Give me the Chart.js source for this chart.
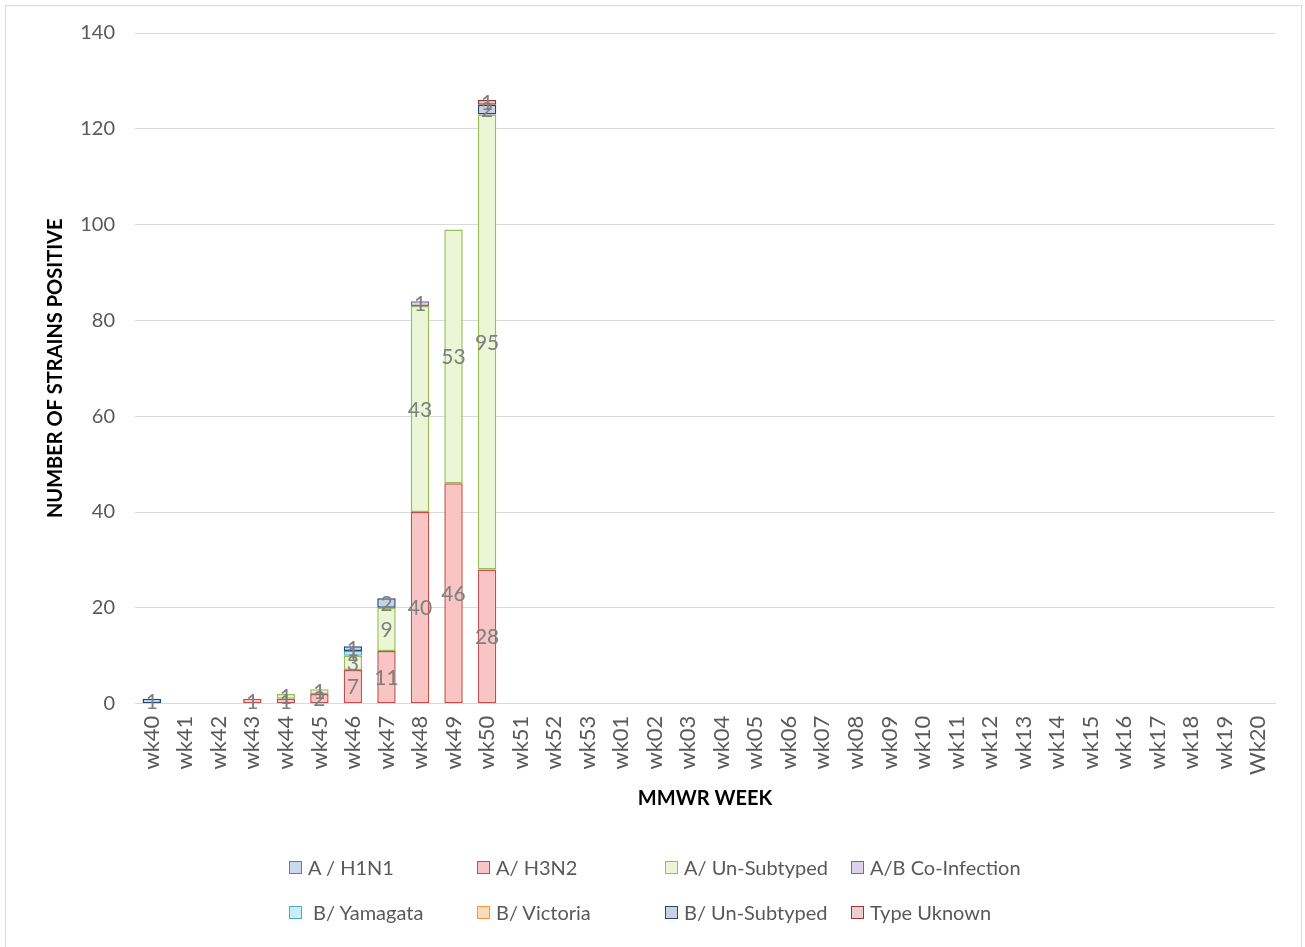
<!DOCTYPE html>
<html>
<head>
<meta charset="utf-8">
<script src="https://cdn.jsdelivr.net/npm/chart.js@4.4.1/dist/chart.umd.min.js"></script>
<style>
    html, body { margin: 0; padding: 0; background: #fff; }
    body { width: 1305px; height: 947px; overflow: hidden; position: relative; font-family: Lato, sans-serif; }
    #frame { position: absolute; left: 5px; top: 5px; width: 1297px; height: 960px; border: 1px solid #d9d9d9; box-sizing: border-box; }
    #wrap { position: absolute; left: 0; top: 0; width: 1305px; height: 947px; }
    .legend-item { position: absolute; display: flex; align-items: center; font-size: 20px; color: #595959; white-space: pre; }
    .legend-item span.box { display: inline-block; width: 11px; height: 11px; border: 1.5px solid; margin-right: 6px; }
</style>
</head>
<body>
<div id="frame"></div>
<div id="wrap"><canvas id="chart" width="1305" height="947"></canvas></div>
<div id="legend"></div>
<script>
// categories
const weeks = ['wk40', 'wk41', 'wk42', 'wk43', 'wk44', 'wk45', 'wk46', 'wk47', 'wk48', 'wk49', 'wk50', 'wk51', 'wk52', 'wk53',
    'wk01', 'wk02', 'wk03', 'wk04', 'wk05', 'wk06', 'wk07', 'wk08', 'wk09', 'wk10', 'wk11', 'wk12', 'wk13', 'wk14',
    'wk15', 'wk16', 'wk17', 'wk18', 'wk19', 'Wk20'];

// series values (only wk40..wk50 reported)
const aH1N1       = [0, 0, 0, 0, 0, 0, 0, 0, 0, 0, 0];
const aH3N2       = [0, 0, 0, 1, 1, 2, 7, 11, 40, 46, 28];
const aUnSubtyped = [0, 0, 0, 0, 1, 1, 3, 9, 43, 53, 95];
const abCoInf     = [0, 0, 0, 0, 0, 0, 0, 0, 1, 0, 0];
const bYamagata   = [0, 0, 0, 0, 0, 0, 1, 0, 0, 0, 0];
const bVictoria   = [0, 0, 0, 0, 0, 0, 0, 0, 0, 0, 0];
const bUnSubtyped = [1, 0, 0, 0, 0, 0, 1, 2, 0, 0, 2];
const typeUnknown = [0, 0, 0, 0, 0, 0, 0, 0, 0, 0, 1];

const seriesNames = ['A / H1N1', 'A/ H3N2', 'A/ Un-Subtyped', 'A/B Co-Infection', ' B/ Yamagata', 'B/ Victoria', 'B/ Un-Subtyped', 'Type Uknown'];
const seriesData = [aH1N1, aH3N2, aUnSubtyped, abCoInf, bYamagata, bVictoria, bUnSubtyped, typeUnknown];
const borderColors = ['#4f81bd', '#c0504d', '#9bbb59', '#8064a2', '#4bacc6', '#f79646', '#1f497d', '#953735'];
const fillColors = ['#c9daf0', '#f9c4c4', '#ebf6d6', '#ddd1ec', '#c8eef7', '#fddabb', '#c7d2e2', '#e8d0cf'];

// y ticks
const yMin = 0, yMax = 140, yStep = 20;

const datasets = seriesNames.map((name, i) => ({
    label: name,
    // zero counts are not drawn at all
    data: seriesData[i].map(v => v || null),
    backgroundColor: fillColors[i],
    borderColor: borderColors[i],
    borderWidth: 1.5,
    borderSkipped: false,
    barPercentage: 0.55,
    categoryPercentage: 1
}));

// simple value labels centred on each segment
const segmentLabels = {
    id: 'segmentLabels',
    afterDatasetsDraw(chart) {
        const ctx = chart.ctx;
        ctx.save();
        ctx.font = '21px Lato';
        ctx.fillStyle = '#7f7f7f';
        ctx.textAlign = 'center';
        ctx.textBaseline = 'middle';
        chart.data.datasets.forEach((ds, i) => {
            const meta = chart.getDatasetMeta(i);
            meta.data.forEach((bar, j) => {
                const v = ds.data[j];
                if (!v) return;
                ctx.fillText(String(v), bar.x, (bar.y + bar.base) / 2 + 1);
            });
        });
        ctx.restore();
    }
};

new Chart(document.getElementById('chart'), {
    type: 'bar',
    data: { labels: weeks, datasets: datasets },
    options: {
        responsive: false,
        animation: false,
        layout: { padding: { left: 44, right: 30, top: 33, bottom: 136 } },
        plugins: {
            legend: { display: false },
            tooltip: { enabled: false }
        },
        scales: {
            x: {
                stacked: true,
                grid: { display: false },
                border: { color: '#d9d9d9', width: 1 },
                ticks: {
                    color: '#595959',
                    font: { family: 'Lato', size: 22 },
                    minRotation: 90,
                    maxRotation: 90,
                    autoSkip: false,
                    padding: 4
                },
                title: {
                    display: true,
                    text: 'MMWR WEEK',
                    color: '#000',
                    font: { family: 'Lato', size: 20, weight: 'bold' },
                    padding: { top: 8, bottom: 0 }
                }
            },
            y: {
                stacked: true,
                min: yMin,
                max: yMax,
                ticks: {
                    stepSize: yStep,
                    color: '#595959',
                    font: { family: 'Lato', size: 20 },
                    padding: 20
                },
                grid: { color: '#d9d9d9', drawTicks: false },
                border: { display: false },
                title: {
                    display: true,
                    text: 'NUMBER OF STRAINS POSITIVE',
                    color: '#000',
                    font: { family: 'Lato', size: 20, weight: 'bold' },
                    padding: { top: 0, bottom: 12 }
                },
                afterFit(scale) { scale.width = 91; }
            }
        }
    },
    plugins: [segmentLabels]
});

// legend, laid out in two rows of four like the original
const legendCols = [289, 477, 665, 851];
const legendRows = [868, 913];
const legendEl = document.getElementById('legend');
seriesNames.forEach((name, i) => {
    const item = document.createElement('div');
    item.className = 'legend-item';
    item.style.left = legendCols[i % 4] + 'px';
    item.style.top = (legendRows[Math.floor(i / 4)] - 13) + 'px';
    item.innerHTML = `<span class="box" style="border-color:${borderColors[i]};background:${fillColors[i]}"></span>${name}`;
    legendEl.appendChild(item);
});
</script>
</body>
</html>
